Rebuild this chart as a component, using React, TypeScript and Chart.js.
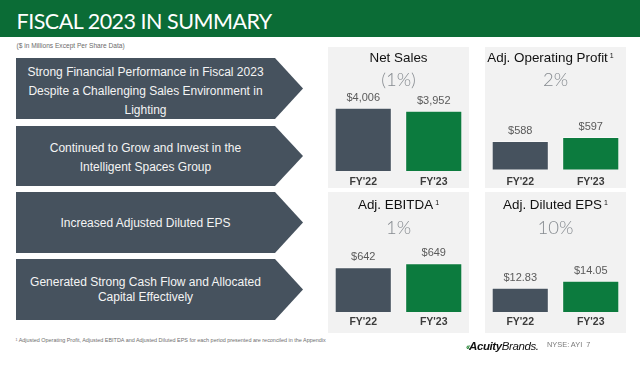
import React, { useEffect, useRef } from "react";
import { Chart, registerables } from "chart.js";

Chart.register(...registerables);

// ---------- data ----------
const categories = ["FY'22", "FY'23"];
const netSales = [4006, 3952];
const adjOperatingProfit = [588, 597];
const adjEbitda = [642, 649];
const adjDilutedEps = [12.83, 14.05];
const panelTitles = ["Net Sales", "Adj. Operating Profit", "Adj. EBITDA", "Adj. Diluted EPS"];
const panelFootnoteMarks = ["", "1", "1", "1"];
const panelChanges = ["(1%)", "2%", "1%", "10%"];
const arrowTexts = [
  ["Strong Financial Performance in Fiscal 2023", "Despite a Challenging Sales Environment in", "Lighting"],
  ["Continued to Grow and Invest in the", "Intelligent Spaces Group"],
  ["Increased Adjusted Diluted EPS"],
  ["Generated Strong Cash Flow and Allocated", "Capital Effectively"],
];
const slideTitle = "FISCAL 2023 IN SUMMARY";
const slideSubtitle = "($ in Millions Except Per Share Data)";
const footnote =
  "Adjusted Operating Profit, Adjusted EBITDA and Adjusted Diluted EPS for each period presented are reconciled in the Appendix";

// ---------- styles ----------
const GRAY = "#46525e";
const GREEN = "#0c7b3e";
const HEADER_GREEN = "#0b6c36";
const PANEL_BG = "#f2f2f2";
const ARIAL = '"Liberation Sans", Arial, sans-serif';

const fmtMillions = (v: number) => "$" + v.toLocaleString("en-US");
const fmtEps = (v: number) => "$" + v.toFixed(2);

type PanelCfg = {
  left: number;
  top: number;
  data: number[];
  fmt: (v: number) => string;
  min: number;
  max: number;
  padBottom: number;
  catOffset: number;
  titleY: number;
  changeY: number;
  titleShift: number;
};

const panels: PanelCfg[] = [
  { left: 328, top: 47, data: netSales, fmt: fmtMillions, min: 2867, max: 5099, padBottom: 17, catOffset: 11.5, titleY: 57.5, changeY: 79, titleShift: 0 },
  { left: 485, top: 47, data: adjOperatingProfit, fmt: fmtMillions, min: 524, max: 799.5, padBottom: 18.5, catOffset: 13, titleY: 57.5, changeY: 79, titleShift: -5 },
  { left: 328, top: 192, data: adjEbitda, fmt: fmtMillions, min: 563.8, max: 773.8, padBottom: 21, catOffset: 10, titleY: 205, changeY: 226.5, titleShift: 0 },
  { left: 485, top: 192, data: adjDilutedEps, fmt: fmtEps, min: 8.6, max: 29.5, padBottom: 21, catOffset: 10, titleY: 205, changeY: 226.5, titleShift: 0 },
];
const PANEL_W = 141;
const PANEL_H = 141;

const arrowBoxes = [
  { top: 58, height: 61, lh: 18.7, shift: 3 },
  { top: 126, height: 60, lh: 19, shift: 2 },
  { top: 192, height: 61, lh: 18, shift: 0 },
  { top: 259, height: 61, lh: 14.6, shift: 0.5 },
];

function BarPanel({ cfg }: { cfg: PanelCfg }) {
  const ref = useRef<HTMLCanvasElement>(null);
  useEffect(() => {
    const labelPlugin = {
      id: "barLabels",
      afterDatasetsDraw(chart: any) {
        const ctx = chart.ctx;
        const meta = chart.getDatasetMeta(0);
        const xScale = chart.scales.x;
        ctx.save();
        ctx.textAlign = "center";
        ctx.textBaseline = "middle";
        meta.data.forEach((bar: any, i: number) => {
          ctx.font = `11px ${ARIAL}`;
          ctx.fillStyle = "#5a5a5a";
          ctx.fillText(cfg.fmt(cfg.data[i]), bar.x, bar.y - 10);
          ctx.font = `bold 10.5px ${ARIAL}`;
          ctx.fillStyle = "#3c3c3c";
          ctx.fillText(categories[i], xScale.getPixelForValue(i), chart.chartArea.bottom + cfg.catOffset);
        });
        ctx.restore();
      },
    };
    const chart = new Chart(ref.current as HTMLCanvasElement, {
      type: "bar",
      data: {
        labels: categories,
        datasets: [
          {
            data: cfg.data,
            backgroundColor: [GRAY, GREEN],
            borderColor: "rgba(255,255,255,0.45)",
            borderWidth: 1,
            barPercentage: 0.81,
            categoryPercentage: 1,
          },
        ],
      },
      options: {
        responsive: false,
        animation: false,
        devicePixelRatio: 1,
        layout: { padding: { top: 0, bottom: cfg.padBottom, left: 0, right: 0 } },
        scales: {
          x: { display: false },
          y: { display: false, min: cfg.min, max: cfg.max },
        },
        plugins: {
          legend: { display: false },
          tooltip: { enabled: false },
          title: { display: false },
        },
      },
      plugins: [labelPlugin],
    } as any);
    return () => chart.destroy();
  }, [cfg]);
  return (
    <canvas
      ref={ref}
      width={PANEL_W}
      height={PANEL_H}
      style={{ position: "absolute", left: 0, top: 0, width: PANEL_W, height: PANEL_H }}
    />
  );
}

export default function App() {
  return (
    <div
      style={{
        position: "fixed",
        left: 0,
        top: 0,
        width: 640,
        height: 376,
        background: "#ffffff",
        overflow: "hidden",
        fontFamily: ARIAL,
      }}
    >
      {/* header */}
      <div style={{ position: "absolute", left: 0, top: 0, width: 640, height: 37, background: HEADER_GREEN }} />
      <div
        style={{
          position: "absolute",
          left: 16.5,
          top: 21.3 - 13,
          height: 26,
          lineHeight: "26px",
          fontFamily: "Lato, sans-serif",
          fontSize: 21.5,
          letterSpacing: -0.5,
          color: "#ffffff",
          whiteSpace: "nowrap",
        }}
      >
        {slideTitle}
      </div>
      <div
        style={{
          position: "absolute",
          left: 16.5,
          top: 46 - 5,
          height: 10,
          lineHeight: "10px",
          fontSize: 6.6,
          color: "#6b6b6b",
          whiteSpace: "nowrap",
        }}
      >
        {slideSubtitle}
      </div>

      {/* arrows */}
      {arrowBoxes.map((a, i) => (
        <div key={"arrow" + i}>
          <div
            style={{
              position: "absolute",
              left: 16,
              top: a.top,
              width: 287,
              height: a.height,
              background: GRAY,
              clipPath: "polygon(0 0, 259px 0, 287px 50%, 259px 100%, 0 100%)",
            }}
          />
          <div
            style={{
              position: "absolute",
              left: 16,
              top: a.top + a.shift,
              width: 259,
              height: a.height,
              display: "flex",
              flexDirection: "column",
              justifyContent: "center",
              alignItems: "center",
              color: "#f4f4f4",
              fontSize: 12,
              lineHeight: a.lh + "px",
              textAlign: "center",
              whiteSpace: "nowrap",
            }}
          >
            {arrowTexts[i].map((t, j) => (
              <div key={j}>{t}</div>
            ))}
          </div>
        </div>
      ))}

      {/* panels */}
      {panels.map((p, i) => (
        <div
          key={"panel" + i}
          style={{ position: "absolute", left: p.left, top: p.top, width: PANEL_W, height: PANEL_H, background: PANEL_BG }}
        >
          <BarPanel cfg={p} />
          <div
            style={{
              position: "absolute",
              left: -20 + p.titleShift,
              width: PANEL_W + 40,
              top: p.titleY - p.top - 9,
              height: 18,
              lineHeight: "18px",
              textAlign: "center",
              fontSize: 13.4,
              color: "#111111",
              whiteSpace: "nowrap",
            }}
          >
            {panelTitles[i]}
            {panelFootnoteMarks[i] ? (
              <span style={{ fontSize: 7, verticalAlign: "top", position: "relative", top: -2, marginLeft: 2 }}>
                {panelFootnoteMarks[i]}
              </span>
            ) : null}
          </div>
          <div
            style={{
              position: "absolute",
              left: 0,
              width: PANEL_W,
              top: p.changeY - p.top - 12,
              height: 24,
              lineHeight: "24px",
              textAlign: "center",
              fontFamily: "Lato, sans-serif",
              fontWeight: 300,
              fontSize: 18.5,
              color: "#868b90",
              whiteSpace: "nowrap",
            }}
          >
            {panelChanges[i]}
          </div>
        </div>
      ))}

      {/* footnote */}
      <div
        style={{
          position: "absolute",
          left: 15.5,
          top: 339.5 - 4,
          height: 8,
          lineHeight: "8px",
          fontSize: 5.45,
          color: "#6e6e6e",
          whiteSpace: "nowrap",
        }}
      >
        <span style={{ fontSize: 3.5, verticalAlign: "top" }}>1</span> {footnote}
      </div>

      {/* logo & ticker */}
      <div
        style={{
          position: "absolute",
          left: 466,
          top: 345 - 8,
          height: 16,
          lineHeight: "16px",
          whiteSpace: "nowrap",
          color: "#111",
        }}
      >
        <span style={{ color: "#2f8a3e", fontWeight: 700, fontSize: 9, fontStyle: "italic", letterSpacing: -1.5 }}>‹‹</span>
        <span style={{ fontWeight: 700, fontStyle: "italic", fontSize: 11.5, letterSpacing: -0.4 }}>Acuity</span>
        <span style={{ fontStyle: "italic", fontSize: 11.5, letterSpacing: -0.4 }}>Brands.</span>
      </div>
      <div
        style={{
          position: "absolute",
          left: 547,
          top: 345 - 5,
          height: 10,
          lineHeight: "10px",
          fontSize: 7.4,
          color: "#7a7a7a",
          whiteSpace: "nowrap",
        }}
      >
        NYSE: AYI&nbsp;&nbsp;7
      </div>
    </div>
  );
}
